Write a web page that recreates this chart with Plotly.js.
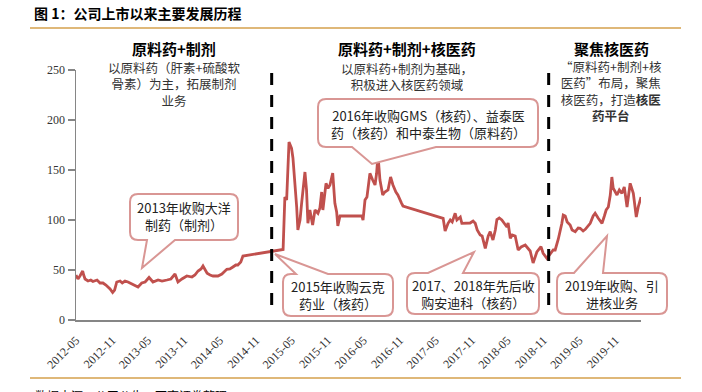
<!DOCTYPE html>
<html><head><meta charset="utf-8">
<script src="https://cdn.plot.ly/plotly-3.0.1.min.js"></script>
<style>html,body{margin:0;padding:0;background:#fff;}#chart{width:702px;height:392px;}</style>
</head><body><div id="chart"></div>
<script>
// ---------------- data ----------------
const dates = [
'2012-05-25','2012-06-04','2012-06-14','2012-06-28','2012-07-03','2012-07-10','2012-07-25','2012-08-08','2012-08-19','2012-09-09',
'2012-09-24','2012-10-09','2012-10-24','2012-11-04','2012-11-14','2012-11-27','2012-12-07','2012-12-18','2013-01-04','2013-01-15',
'2013-01-29','2013-02-13','2013-02-23','2013-03-21','2013-04-05','2013-04-24','2013-05-11','2013-05-31','2013-06-10','2013-06-20',
'2013-07-16','2013-08-05','2013-08-30','2013-09-19','2013-10-10','2013-10-25','2013-11-14','2013-12-09','2014-01-04','2014-01-19',
'2014-02-04','2014-02-19','2014-03-01','2014-03-11','2014-03-22','2014-04-06','2014-04-21','2014-05-16','2014-06-05','2014-06-30',
'2014-07-16','2014-07-31','2014-08-15','2014-08-25','2014-09-09','2014-09-20',
'2015-04-12','2015-04-21','2015-04-30','2015-05-12','2015-05-19','2015-05-25','2015-06-01','2015-06-11','2015-06-20','2015-06-26',
'2015-07-07','2015-07-15','2015-07-24','2015-08-01','2015-08-09','2015-08-16','2015-08-26','2015-09-02','2015-09-09','2015-09-21',
'2015-10-06','2015-10-16','2015-10-25','2015-10-31','2015-11-16','2015-11-26','2015-12-06','2015-12-20','2015-12-31','2016-01-09',
'2016-01-15','2016-01-26','2016-05-16','2016-05-22','2016-06-01','2016-06-11','2016-06-26','2016-07-10','2016-07-22','2016-07-30',
'2016-08-06','2016-08-16','2016-08-30','2016-09-10','2016-09-26','2016-10-09','2016-10-21','2016-11-05','2016-11-15','2016-12-04',
'2016-12-11',
'2017-07-03','2017-07-13','2017-07-28','2017-08-08','2017-08-18','2017-09-02','2017-09-11','2017-09-28','2017-10-06','2017-10-23',
'2017-11-17','2017-12-02','2017-12-13','2017-12-23','2018-01-07','2018-01-17','2018-02-02','2018-02-17','2018-02-27','2018-03-13',
'2018-03-25','2018-04-02','2018-04-14','2018-04-27','2018-05-09','2018-05-23','2018-05-29','2018-06-09','2018-06-19','2018-07-04',
'2018-07-19','2018-08-03','2018-08-24','2018-09-08','2018-09-18','2018-10-03','2018-10-22','2018-11-12','2018-11-23','2018-12-12',
'2018-12-29','2019-01-13','2019-01-23','2019-02-08','2019-02-26','2019-03-05','2019-03-15','2019-03-25','2019-04-09','2019-04-19',
'2019-05-05','2019-05-20','2019-05-30','2019-06-14','2019-06-25','2019-07-10','2019-07-20','2019-08-04','2019-08-14','2019-08-30',
'2019-09-18','2019-09-30','2019-10-09','2019-10-20','2019-10-30','2019-11-07','2019-11-14','2019-12-03','2019-12-15','2019-12-28',
'2020-01-09','2020-01-23','2020-01-30','2020-02-08','2020-02-24','2020-03-10','2020-03-20','2020-04-03'
];
const prices = [
45,41,44,49,45,41,39,40,38.5,40,
37,37,35,33,31,27.5,30,38,39,37,
39,38,37,34,33,37,38,42.5,40,38,
40,39,40,41,46,38,41,44,43,45,
49,51,54,50,46.7,45,44,44,46,50.7,
51,53,55,55,58,64,
70.5,123,120,178,175,171.7,162,140,113,90,
100,116.7,135,148,130,96.7,110,100,95,110,
106.7,112,128,110,136.7,131.7,135,147,116.7,108,
94,104,104,100,120,123,146.7,140,135,146.7,
165,140,125,128,130,143,135,128,125,116.7,
114,
101.7,89,96.7,100,98,106.7,100,103,96.7,97,
97,99,96.7,90,85,84,71.7,84,88.3,80,
90,100.5,102,100,97,93,97,81.7,85,84,
70,73,75,72,69,57,68,73.3,66.7,61.7,
66.7,70,70,81,96.7,105,104,98,95,90,
88.3,92,91.7,89,90.7,95,96.7,104,106.7,101.7,
96.7,104,110,113,125,143,131.7,125,130,126.7,
133,113,122,136.7,126.7,103,113,123
];
const tickDates = ['2012-05-25','2012-11-25','2013-05-25','2013-11-25','2014-05-25','2014-11-25','2015-05-25','2015-11-25',
                   '2016-05-25','2016-11-25','2017-05-25','2017-11-25','2018-05-25','2018-11-25','2019-05-25','2019-11-25'];
const tickLabels = ['2012-05','2012-11','2013-05','2013-11','2014-05','2014-11','2015-05','2015-11',
                    '2016-05','2016-11','2017-05','2017-11','2018-05','2018-11','2019-05','2019-11'];
const yTicks = [0,50,100,150,200,250];
const dividerDates = ['2015-02-13','2018-12-21'];
const phaseTitles = ['原料药+制剂','原料药+制剂+核医药','聚焦核医药'];
const phaseNotes = [
  '以原料药（肝素+硫酸软<br>骨素）为主，拓展制剂<br>业务',
  '以原料药+制剂为基础，<br>积极进入核医药领域',
  '“原料药+制剂+核<br>医药”布局，聚焦<br>核医药，打造<b>核医</b><br><b>药平台</b>'
];
const eventTexts = [
  '2013年收购大洋<br>制药（制剂）',
  '2015年收购云克<br>药业（核药）',
  '2016年收购GMS（核药）、益泰医<br>药（核药）和中泰生物（原料药）',
  '2017、2018年先后收<br>购安迪科（核药）',
  '2019年收购、引<br>进核业务'
];
const chartTitle = '图 1：公司上市以来主要发展历程';
const sourceText = '数据来源：公司公告，西南证券整理';

// ---------------- layout helpers ----------------
const W = 702, H = 392;
const M = {l: 76, r: 61, t: 70, b: 72};
const PW = W - M.l - M.r, PH = H - M.t - M.b;
const px = x => (x - M.l) / PW;
const py = y => (H - M.b - y) / PH;
const CJK = '"Noto Sans CJK SC", "Noto Sans", sans-serif';
const SERIF = '"Liberation Serif", "Times New Roman", serif';
const RED = '#C0504D';
const BOX = '#D99694';

function P(x, y) { return px(x).toFixed(5) + ',' + py(y).toFixed(5); }
function callout(x0, y0, x1, y1, r, side, b0, b1, tx, ty) {
  let d = 'M' + P(x0 + r, y0);
  if (side === 'top') d += ' L' + P(b0, y0) + ' L' + P(tx, ty) + ' L' + P(b1, y0);
  d += ' L' + P(x1 - r, y0) + ' Q' + P(x1, y0) + ' ' + P(x1, y0 + r);
  d += ' L' + P(x1, y1 - r) + ' Q' + P(x1, y1) + ' ' + P(x1 - r, y1);
  if (side === 'bottom') d += ' L' + P(b1, y1) + ' L' + P(tx, ty) + ' L' + P(b0, y1);
  d += ' L' + P(x0 + r, y1) + ' Q' + P(x0, y1) + ' ' + P(x0, y1 - r);
  d += ' L' + P(x0, y0 + r) + ' Q' + P(x0, y0) + ' ' + P(x0 + r, y0) + ' Z';
  return {type: 'path', xref: 'paper', yref: 'paper', path: d,
          line: {color: BOX, width: 2}, fillcolor: '#ffffff', layer: 'above'};
}

const boxes = [
  [130, 194, 238, 240, 'bottom', 147, 175, 142, 268, 184, 216],
  [283, 274, 393, 316, 'top', 296, 328, 275, 254, 338, 295],
  [318, 99, 538, 147, 'bottom', 352, 436, 372, 164, 428, 124],
  [407, 273, 539, 314, 'top', 428, 463, 474, 252, 473, 293.5],
  [557, 273, 667, 314, 'top', 574, 603, 607, 236, 612, 293.5]
];

const shapes = [];
dividerDates.forEach(d => shapes.push({type: 'line', xref: 'x', yref: 'y', x0: d, x1: d, y0: 247, y1: 10,
  line: {color: '#000', width: 3, dash: '12px,10px'}, layer: 'above'}));
boxes.forEach(b => shapes.push(callout(b[0], b[1], b[2], b[3], 8, b[4], b[5], b[6], b[7], b[8])));
shapes.push({type: 'line', xref: 'paper', yref: 'paper', x0: px(30), x1: px(681), y0: py(28), y1: py(28),
  line: {color: '#D4A04C', width: 1.5}});
shapes.push({type: 'line', xref: 'paper', yref: 'paper', x0: px(30), x1: px(681), y0: py(378), y1: py(378),
  line: {color: '#D4A04C', width: 1.5}});

const annotations = [];
annotations.push({xref: 'paper', yref: 'paper', x: px(32), y: py(13), xanchor: 'left', yanchor: 'middle',
  text: '<b>' + chartTitle + '</b>', showarrow: false, font: {family: CJK, size: 14, color: '#000'}});
annotations.push({xref: 'paper', yref: 'paper', x: px(33), y: py(385), xanchor: 'left', yanchor: 'top',
  text: sourceText, showarrow: false, font: {family: CJK, size: 12, color: '#000'}});
const phaseX = [174, 407, 611];
const noteY = [84, 76.5, 91];
phaseTitles.forEach((t, i) => annotations.push({xref: 'paper', yref: 'paper', x: px(phaseX[i]), y: py(49),
  xanchor: 'center', yanchor: 'middle', text: '<b>' + t + '</b>', showarrow: false,
  font: {family: CJK, size: 15, color: '#000'}}));
phaseNotes.forEach((t, i) => annotations.push({xref: 'paper', yref: 'paper', x: px(phaseX[i]), y: py(noteY[i]),
  xanchor: 'center', yanchor: 'middle', align: 'center', text: t, showarrow: false,
  font: {family: CJK, size: 12.5, color: '#333'}}));
eventTexts.forEach((t, i) => annotations.push({xref: 'paper', yref: 'paper', x: px(boxes[i][9]), y: py(boxes[i][10]),
  xanchor: 'center', yanchor: 'middle', align: 'center', text: t, showarrow: false,
  font: {family: CJK, size: 13, color: '#222'}}));

const trace = {x: dates, y: prices, type: 'scatter', mode: 'lines',
  line: {color: RED, width: 2.8}, hoverinfo: 'skip'};

const layout = {
  width: W, height: H, margin: M, showlegend: false,
  paper_bgcolor: '#fff', plot_bgcolor: '#fff',
  xaxis: {type: 'date', range: ['2012-05-25', '2020-04-03'], tickvals: tickDates, ticktext: tickLabels,
    tickangle: -45, ticks: '', ticklabelstandoff: 7, showgrid: false, zeroline: false, showline: true, linecolor: '#868686', linewidth: 1.5,
    tickfont: {family: SERIF, size: 12, color: '#333'}, fixedrange: true},
  yaxis: {range: [0, 250], tickvals: yTicks, ticks: 'outside', ticklen: 7, tickcolor: '#868686', tickwidth: 1.5,
    showgrid: false, zeroline: false, showline: true, linecolor: '#868686', linewidth: 1.5,
    tickfont: {family: SERIF, size: 12, color: '#333'}, fixedrange: true},
  shapes: shapes, annotations: annotations
};
Plotly.newPlot('chart', [trace], layout, {displayModeBar: false, staticPlot: true});
</script></body></html>
